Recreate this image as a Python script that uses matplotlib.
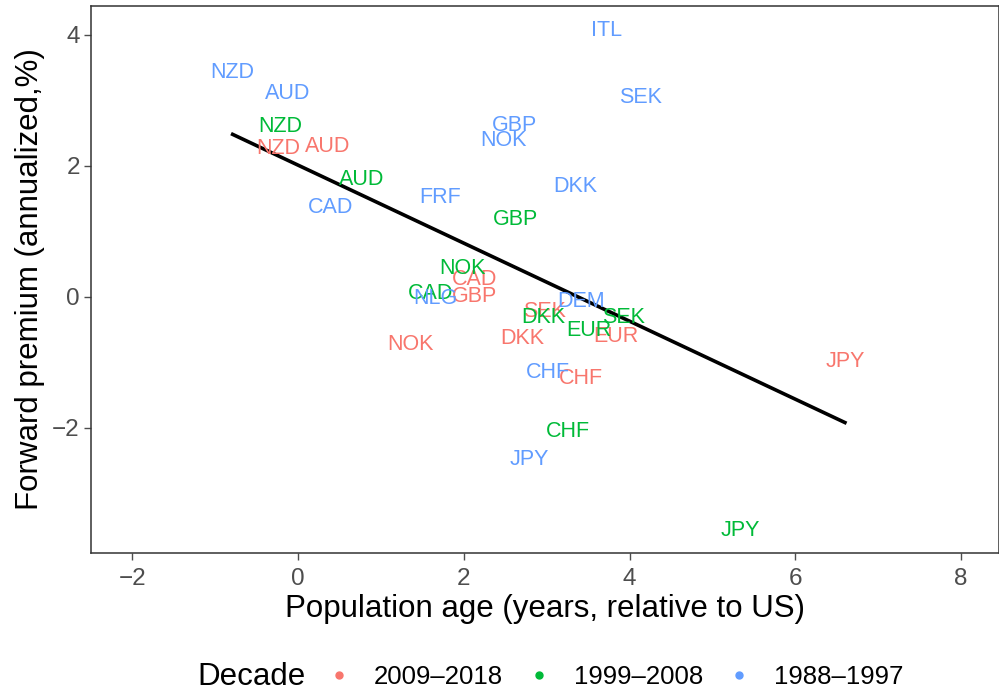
import numpy as np
import matplotlib
matplotlib.use("Agg")
from matplotlib import pyplot as plt
from matplotlib.lines import Line2D

plt.rcParams['font.family'] = ['Liberation Sans', 'DejaVu Sans']

# ---- data ----
decades = ["2009\u20132018", "1999\u20132008", "1988\u20131997"]
colors = ["#F8766D", "#00BA38", "#619CFF"]

labels_1988 = ["ITL", "NZD", "AUD", "SEK", "GBP", "NOK", "DKK", "FRF", "CAD", "NLG", "DEM", "CHF", "JPY"]
age_1988 = [3.72, -0.79, -0.13, 4.13, 2.61, 2.48, 3.34, 1.72, 0.39, 1.66, 3.41, 3.02, 2.79]
fp_1988 = [4.06, 3.42, 3.11, 3.04, 2.61, 2.38, 1.68, 1.51, 1.36, -0.03, -0.07, -1.16, -2.49]

labels_1999 = ["NZD", "AUD", "GBP", "NOK", "CAD", "DKK", "EUR", "SEK", "CHF", "JPY"]
age_1999 = [-0.21, 0.77, 2.62, 1.98, 1.60, 2.96, 3.51, 3.93, 3.26, 5.34]
fp_1999 = [2.60, 1.79, 1.18, 0.44, 0.05, -0.32, -0.52, -0.32, -2.05, -3.57]

labels_2009 = ["NZD", "AUD", "CAD", "GBP", "SEK", "DKK", "EUR", "NOK", "CHF", "JPY"]
age_2009 = [-0.24, 0.36, 2.13, 2.13, 2.97, 2.71, 3.83, 1.36, 3.41, 6.60]
fp_2009 = [2.26, 2.29, 0.27, 0.0, -0.23, -0.64, -0.61, -0.72, -1.25, -0.98]

groups = [(labels_2009, age_2009, fp_2009),
          (labels_1999, age_1999, fp_1999),
          (labels_1988, age_1988, fp_1988)]

my_dpi = 100
W, H = 999, 691
fig = plt.figure(figsize=(W/my_dpi, H/my_dpi), dpi=my_dpi, facecolor='w')
ax = fig.add_axes([91/W, 1-553/H, (W-91)/W, (553-6)/H])

for (labs, xs, ys), col in zip(groups, colors):
    for lab, xv, yv in zip(labs, xs, ys):
        ax.text(xv, yv, lab, color=col, fontsize=15.5, ha='center', va='center')

# pooled OLS fit line over the data range
all_x = np.array(age_2009 + age_1999 + age_1988)
all_y = np.array(fp_2009 + fp_1999 + fp_1988)
slope, icpt = np.polyfit(all_x, all_y, 1)
xx = np.array([all_x.min(), all_x.max()])
ax.plot(xx, icpt + slope*xx, color='black', linewidth=2.6)

ax.set_xlim(-2.5, 8.46)
ax.set_ylim(-3.91, 4.44)
ax.set_xticks([-2, 0, 2, 4, 6, 8])
ax.set_yticks([-2, 0, 2, 4])
ax.set_xticklabels(["\u22122", "0", "2", "4", "6", "8"])
ax.set_yticklabels(["\u22122", "0", "2", "4"])
ax.tick_params(colors='#4D4D4D', labelsize=17.5, length=5, width=1, pad=3)
ax.tick_params(axis='x', pad=6)
for s in ax.spines.values():
    s.set_color('#333333')
    s.set_linewidth(1.1)
ax.set_xlabel("Population age (years, relative to US)", fontsize=22.5, labelpad=3)
ax.set_ylabel("Forward premium (annualized,%)", fontsize=22.5, labelpad=5)

# legend at bottom with title on the left
fig.text(197/W, 1-677/H, "Decade", fontsize=22.5, va='center', ha='left')
handles = [Line2D([], [], marker='o', linestyle='', color=c, markersize=5) for c in colors]
fig.legend(handles, decades, loc='center left', bbox_to_anchor=(326/W, 1-677/H),
           ncol=3, frameon=False, fontsize=18.5, handletextpad=0.86, columnspacing=0.9,
           borderaxespad=0, borderpad=0, handlelength=1.0)

plt.savefig("out.png", dpi=my_dpi)
